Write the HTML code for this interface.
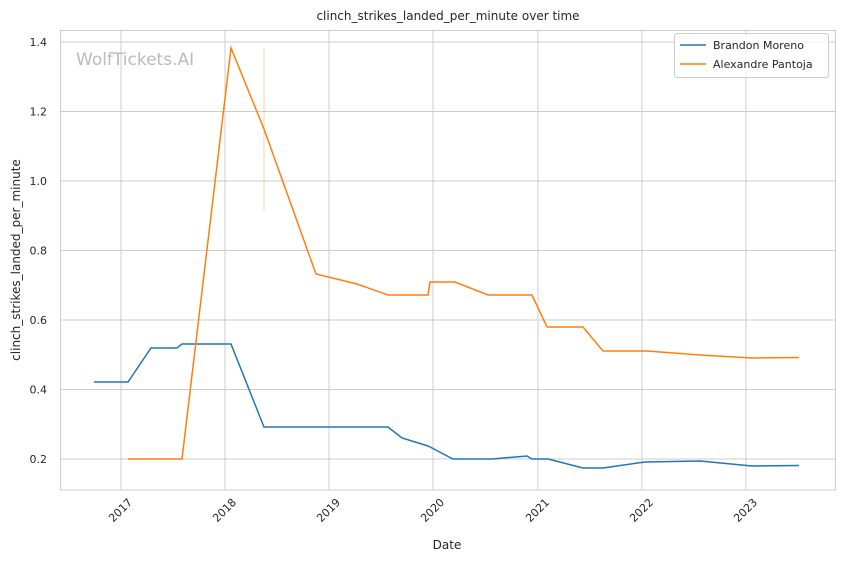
<!DOCTYPE html>
<html><head><meta charset="utf-8"><style>
body{margin:0;background:#fff;}
svg{display:block;font-family:"DejaVu Sans","Liberation Sans",sans-serif;}
</style></head><body>
<svg width="844" height="561" viewBox="0 0 844 561" xmlns="http://www.w3.org/2000/svg">
<rect width="844" height="561" fill="#fff"/>
<text x="448" y="20" font-size="12" text-anchor="middle" fill="#262626">clinch_strikes_landed_per_minute over time</text>
<g stroke="#cccccc" stroke-width="1">
<line x1="121" y1="30" x2="121" y2="490"/><line x1="225" y1="30" x2="225" y2="490"/>
<line x1="329" y1="30" x2="329" y2="490"/><line x1="433" y1="30" x2="433" y2="490"/>
<line x1="538" y1="30" x2="538" y2="490"/><line x1="642" y1="30" x2="642" y2="490"/>
<line x1="746" y1="30" x2="746" y2="490"/>
<line x1="60" y1="42" x2="836" y2="42"/><line x1="60" y1="111.5" x2="836" y2="111.5"/>
<line x1="60" y1="181" x2="836" y2="181"/><line x1="60" y1="250.5" x2="836" y2="250.5"/>
<line x1="60" y1="320" x2="836" y2="320"/><line x1="60" y1="389.5" x2="836" y2="389.5"/>
<line x1="60" y1="459" x2="836" y2="459"/>
</g>
<rect x="60.5" y="30.5" width="775" height="459.5" fill="none" stroke="#cccccc"/>
<text x="76" y="65" font-size="17" fill="#bbbbbb">WolfTickets.AI</text>
<line x1="264" y1="48" x2="264" y2="210" stroke="#ff7f0e" stroke-opacity="0.35" stroke-width="1"/>
<g font-size="11" fill="#262626" text-anchor="end">
<text x="47" y="46">1.4</text><text x="47" y="115.5">1.2</text><text x="47" y="185">1.0</text>
<text x="47" y="254.5">0.8</text><text x="47" y="324">0.6</text><text x="47" y="393.5">0.4</text>
<text x="47" y="463">0.2</text>
</g>
<g font-size="11" fill="#262626" text-anchor="end">
<text transform="translate(133,503) rotate(-45)">2017</text>
<text transform="translate(237,503) rotate(-45)">2018</text>
<text transform="translate(341,503) rotate(-45)">2019</text>
<text transform="translate(445,503) rotate(-45)">2020</text>
<text transform="translate(550,503) rotate(-45)">2021</text>
<text transform="translate(654,503) rotate(-45)">2022</text>
<text transform="translate(758,503) rotate(-45)">2023</text>
</g>
<text x="447" y="549" font-size="12" text-anchor="middle" fill="#262626">Date</text>
<text transform="translate(20,260) rotate(-90)" font-size="12" text-anchor="middle" fill="#262626">clinch_strikes_landed_per_minute</text>
<polyline fill="none" stroke="#1f77b4" stroke-width="1.5" points="94,382 128,382 151,348 177,348 182,344 231,344 264,427 388,427 402,438 428,446 432,448 453,459 492,459 527,456 532,459 548,459 583,468 603,468 645,462 700,461 752,466 799,465.5"/>
<polyline fill="none" stroke="#ff7f0e" stroke-width="1.5" points="128,459 182,459 231,48 264,129 316,274 357,284 388,295 428,295 430,282 455,282 488,295 532,295 547,327 583,327 603,351 647,351 700,355 752,358 799,357.5"/>
<rect x="674.5" y="33.5" width="154" height="44" rx="3" fill="#fff" fill-opacity="0.8" stroke="#cccccc"/>
<line x1="680" y1="45" x2="706" y2="45" stroke="#1f77b4" stroke-width="1.5"/>
<text x="713" y="49" font-size="11" fill="#262626">Brandon Moreno</text>
<line x1="680" y1="64" x2="706" y2="64" stroke="#ff7f0e" stroke-width="1.5"/>
<text x="713" y="68" font-size="11" fill="#262626">Alexandre Pantoja</text>
</svg>
</body></html>
